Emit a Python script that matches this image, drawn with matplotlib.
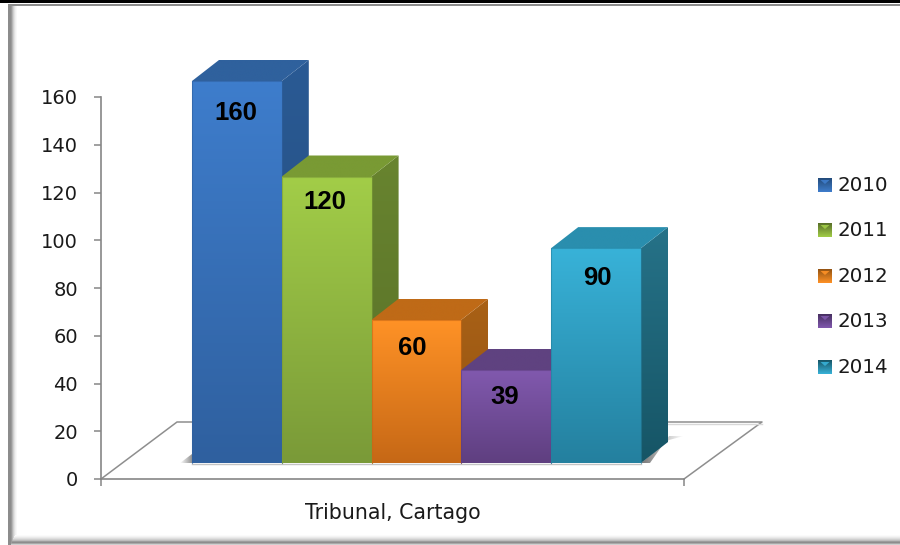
import matplotlib
matplotlib.use("Agg")
import matplotlib.pyplot as plt
import numpy as np
from matplotlib.colors import to_rgb
from matplotlib.patches import Polygon

# ----- Data -----
years = ["2010", "2011", "2012", "2013", "2014"]
values = [160, 120, 60, 39, 90]
category = "Tribunal, Cartago"
y_ticks = [0, 20, 40, 60, 80, 100, 120, 140, 160]

# ----- Style -----
W, H = 900, 545
AXIS = "#868686"
# front top, front bottom, roof, side top, side bottom
COLORS = [("#3E7DCC", "#2F609F", "#2F619D", "#2A5A94", "#234B7A"),
          ("#A2CD48", "#7A9A38", "#799A34", "#68842F", "#586F28"),
          ("#FF9226", "#C66816", "#BF6A17", "#A96116", "#935312"),
          ("#8159AE", "#5F3F80", "#5F4280", "#523770", "#472F61"),
          ("#38B2D8", "#24809F", "#2A8EAE", "#267288", "#165566")]
LEGEND_Y = [185, 230, 276, 321, 367]
LABEL_DX = [-1, -2, -4, -2, 1]     # px, label centre vs bar centre
LABEL_DY = [31, 25, 28, 26, 29]    # px, label centre below bar top
plt.rcParams["font.family"] = ["DejaVu Sans"]

fig = plt.figure(figsize=(W / 100, H / 100), dpi=100, facecolor="white")


def vgrad(ax, verts, c_top, c_bot, zorder):
    """Fill a polygon with a vertical gradient, not clipped to the axes."""
    verts = np.array(verts, dtype=float)
    x0, x1 = verts[:, 0].min(), verts[:, 0].max()
    y0, y1 = verts[:, 1].min(), verts[:, 1].max()
    t = np.linspace(0, 1, 64)[:, None, None]
    img = (1 - t) * np.array(to_rgb(c_top)) + t * np.array(to_rgb(c_bot))
    im = ax.imshow(img, extent=(x0, x1, y0, y1), origin="upper", aspect="auto",
                   interpolation="bilinear", zorder=zorder)
    poly = Polygon(verts, closed=True, transform=ax.transData)
    im.set_clip_box(fig.bbox)
    im.set_clip_path(poly)


def hfade(ax, verts, color, a_left, a_right, zorder):
    """Polygon in one colour whose alpha fades from left to right."""
    verts = np.array(verts, dtype=float)
    x0, x1 = verts[:, 0].min(), verts[:, 0].max()
    y0, y1 = verts[:, 1].min(), verts[:, 1].max()
    img = np.ones((1, 64, 4))
    img[..., :3] = to_rgb(color)
    img[..., 3] = np.linspace(a_left, a_right, 64)
    im = ax.imshow(img, extent=(x0, x1, y1, y0), aspect="auto",
                   interpolation="bilinear", zorder=zorder)
    im.set_clip_path(Polygon(verts, closed=True, transform=ax.transData))


# ----- Overlay in pixels: frame, floor, shadows, legend -----
bg = fig.add_axes([0, 0, 1, 1], zorder=0)
bg.axis("off")

bg.fill_between([0, W], 0, 2.5, color="black", lw=0)
bg.fill_between([8, W], 4, 6, color="#8C8C8C", lw=0)
for x, c in zip(range(8, 17), ["#8C8C8C", "#8C8C8C", "#8C8C8C", "#9A9A9A",
                               "#B5B5B5", "#CFCFCF", "#E2E2E2", "#F0F0F0", "#F8F8F8"]):
    bg.fill_between([x, x + 1], 6, 545, color=c, lw=0)
for y, c in zip(range(535, 545), ["#FBFBFB", "#F4F4F4", "#EAEAEA", "#DEDEDE", "#CFCFCF",
                                  "#BDBDBD", "#9C9C9C", "#8C8C8C", "#A8A8A8", "#D0D0D0"]):
    bg.fill_between([11 + (544 - y) * 0.4, W], y, y + 1, color=c, lw=0)

bg.plot([101, 177, 192], [479, 422, 422], color="#8E8E8E", lw=1.1)
bg.plot([660, 762, 684], [422, 422, 479], color="#8E8E8E", lw=1.1)
bg.plot([660, 762], [424, 424], color="#D8D8D8", lw=1.0)

# soft floor shadows
hfade(bg, [(180, 463), (192, 454), (192, 463)], "#777777", 0.0, 0.8, 1)
hfade(bg, [(641, 463), (669, 440), (684, 436), (669, 436), (650, 463)], "#666666", 0.9, 0.0, 1)
bg.plot([192, 641], [464, 464], color="#C4C4C4", lw=1.0)

for yr, yy, cols in zip(years, LEGEND_Y, COLORS):
    vgrad(bg, [(818, yy - 7), (832, yy - 7), (832, yy + 7), (818, yy + 7)],
          cols[0], cols[4], 3)
    bg.add_patch(Polygon([(820.5, yy - 5), (829.5, yy - 5), (825, yy - 1)],
                         color=cols[0], alpha=0.9, lw=0, zorder=4))
    bg.text(837.5, yy + 0.5, yr, ha="left", va="center", fontsize=14.3, color="#1A1A1A")
bg.set_xlim(0, W); bg.set_ylim(H, 0)

# ----- Chart axes -----
L, R, T, B = 101, 684, 97, 479          # axis box in pixels
BAR_L, BAR_W = 192, 89.8                # first bar edge, bar width in pixels
x0 = (L - BAR_L) / BAR_W
x1 = (R - BAR_L) / BAR_W
v_per_px = 160 / (B - T)
BASE = 16 * v_per_px                    # bars stand 16 px above the axis line
DX, DY = 27 / BAR_W, 21 * v_per_px      # depth of the 3-D boxes
EPS_X, EPS_Y = 2 / BAR_W, 2 * v_per_px  # roof/side run under the front face

ax = fig.add_axes([L / W, 1 - B / H, (R - L) / W, (B - T) / H], zorder=1)
ax.patch.set_alpha(0)

for i, (v, c) in enumerate(zip(values, COLORS)):
    l, r, b, t = i, i + 1, BASE, BASE + v
    vgrad(ax, [(r - EPS_X, b), (r, b), (r + DX, b + DY), (r + DX, t + DY), (r, t), (r - EPS_X, t)],
          c[3], c[4], 2 + i)
    vgrad(ax, [(l, t - EPS_Y), (r, t - EPS_Y), (r, t), (r + DX, t + DY), (l + DX, t + DY), (l, t)],
          c[2], c[2], 2 + i)
    vgrad(ax, [(l, b), (r, b), (r, t), (l, t)], c[0], c[1], 2 + i)
    ax.plot([l, l, r, r], [b, t, t, b], color=c[1], lw=0.8, alpha=0.6, clip_on=False, zorder=2 + i)
    ax.annotate(str(v), (i + 0.5, t), xytext=(LABEL_DX[i] * 0.72, -LABEL_DY[i] * 0.72 - 0.5),
                textcoords="offset points", ha="center", va="center", fontsize=18.5,
                fontweight="bold", family="Liberation Sans", color="black", zorder=20,
                annotation_clip=False)

ax.set_xlim(x0, x1)
ax.set_ylim(0, 160)
for s in ("top", "right"):
    ax.spines[s].set_visible(False)
for s in ("left", "bottom"):
    ax.spines[s].set_color(AXIS)
    ax.spines[s].set_linewidth(1.2)
    ax.spines[s].set_zorder(1)
ax.set_yticks(y_ticks)
ax.tick_params(axis="y", length=5, width=1.1, color=AXIS, pad=11.5,
               labelsize=14, labelcolor="#1A1A1A")
ax.set_xticks([x0, x1], labels=["", ""])
ax.tick_params(axis="x", which="major", length=5, width=1.1, color=AXIS)
ax.set_xticks([(x0 + x1) / 2], labels=[category], minor=True)
ax.tick_params(axis="x", which="minor", length=0, pad=17, labelsize=14.8, labelcolor="#1A1A1A")

fig.savefig("out.png", dpi=100)
